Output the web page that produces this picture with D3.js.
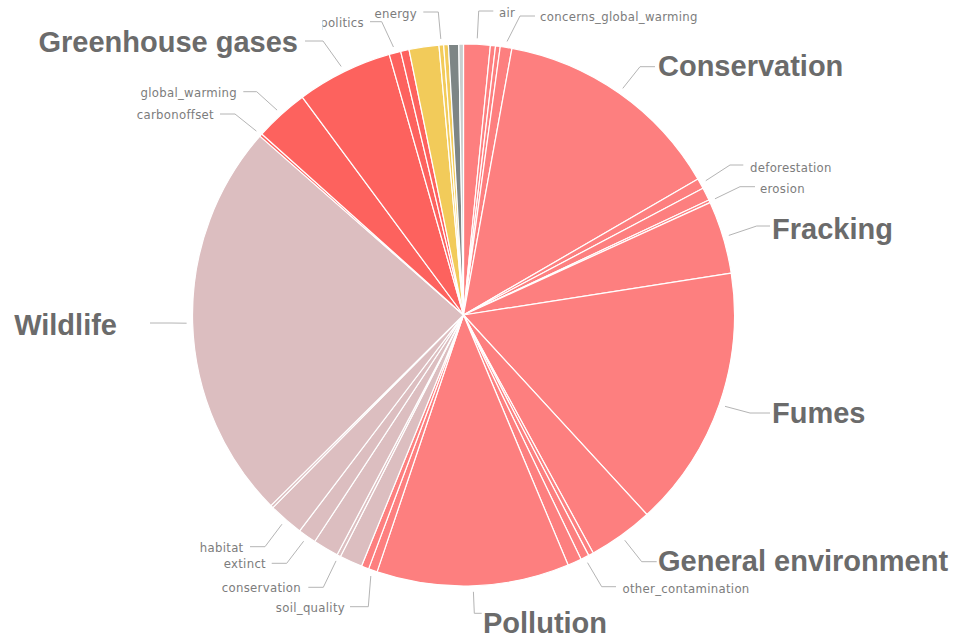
<!DOCTYPE html>
<html>
<head>
<meta charset="utf-8">
<script src="https://cdn.jsdelivr.net/npm/d3@7/dist/d3.min.js"></script>
<style>
  html, body { margin: 0; padding: 0; background: #ffffff; }
  svg { display: block; }
</style>
</head>
<body>
<svg id="chart" width="953" height="637"></svg>
<script>
// Topics, clockwise from 12 o'clock. Empty names are slices that carry no label.
const categories = [
  "air", "", "", "concerns_global_warming", "Conservation", "deforestation", "", "erosion",
  "Fracking", "Fumes", "General environment", "", "other_contamination", "", "Pollution",
  "soil_quality", "", "", "conservation", "", "extinct", "habitat", "", "Wildlife",
  "carbonoffset", "global_warming", "Greenhouse gases", "politics", "", "", "energy", "", "", ""
];
const values = [
  5.7, 1.1, 1.0, 2.5, 49.6, 2.2, 2.8, 0.6,
  15.6, 56.3, 14.0, 1.1, 1.8, 3.0, 41.3,
  1.9, 1.6, 4.9, 0.8, 5.5, 3.9, 7.5, 0.6, 86.0,
  0.6, 11.6, 20.6, 2.5, 1.8, 6.4, 1.0, 1.0, 2.2, 1.0
];
const groups = [
  "pollution", "pollution", "pollution", "pollution", "pollution", "pollution", "pollution", "pollution",
  "pollution", "pollution", "pollution", "pollution", "pollution", "pollution", "pollution",
  "pollution", "pollution", "wildlife", "wildlife", "wildlife", "wildlife", "wildlife", "wildlife", "wildlife",
  "climate", "climate", "climate", "climate", "climate", "energy", "energy", "energy", "other", "other2"
];
// Headline topics drawn with the large label style
const majorTopics = ["Conservation", "Fracking", "Fumes", "General environment", "Pollution", "Wildlife", "Greenhouse gases"];

const groupNames = ["pollution", "wildlife", "climate", "energy", "other", "other2"];
const groupColors = ["#FD7F7F", "#DCBEC0", "#FD625E", "#F2CB5A", "#7D8585", "#C9CECE"];

// Leader elbow / end points and text anchors for each labelled slice
const labelLayout = {
  "air":                     { elbow: [478.7, 11],   end: [493.3, 11],   tx: 499,   ty: 12,   anchor: "start" },
  "concerns_global_warming": { elbow: [520, 16],     end: [535, 16],     tx: 540,   ty: 16,   anchor: "start" },
  "energy":                  { elbow: [438.3, 12],   end: [423.3, 12],   tx: 417,   ty: 13,   anchor: "end" },
  "politics":                { elbow: [381.7, 21.7], end: [370, 21.7],   tx: 364,   ty: 22,   anchor: "end", clipLeft: 322.5 },
  "Greenhouse gases":        { elbow: [323, 41],     end: [305, 41],     tx: 298,   ty: 42,   anchor: "end" },
  "global_warming":          { elbow: [256.7, 91.7], end: [243.3, 91.7], tx: 237,   ty: 92,   anchor: "end" },
  "carbonoffset":            { elbow: [235, 114],    end: [220, 114],    tx: 214,   ty: 114,  anchor: "end" },
  "Wildlife":                { elbow: [170, 323],    end: [150, 323],    tx: 117,   ty: 325,  anchor: "end" },
  "habitat":                 { elbow: [265, 546.7],  end: [250, 546.7],  tx: 243.5, ty: 547,  anchor: "end" },
  "extinct":                 { elbow: [286.7, 563.3],end: [271.7, 563.3],tx: 266,   ty: 563.5,anchor: "end" },
  "conservation":            { elbow: [323.3, 587.3],end: [308.3, 587.3],tx: 301,   ty: 587,  anchor: "end" },
  "soil_quality":            { elbow: [368.3, 606.7],end: [350, 606.7],  tx: 345,   ty: 607,  anchor: "end" },
  "Pollution":               { elbow: [474.3, 613.3],end: [481.7, 613.3],tx: 483,   ty: 622.5,anchor: "start" },
  "other_contamination":     { elbow: [601.7, 586.7],end: [616, 586.7],  tx: 622.5, ty: 588,  anchor: "start" },
  "General environment":     { elbow: [641.7, 561.7],end: [656.7, 561.7],tx: 658,   ty: 561,  anchor: "start" },
  "Fumes":                   { elbow: [750, 413],    end: [770, 413],    tx: 772,   ty: 413,  anchor: "start" },
  "Fracking":                { elbow: [756.7, 226],  end: [770, 226],    tx: 772,   ty: 229,  anchor: "start" },
  "erosion":                 { elbow: [740, 186.7],  end: [755, 186.7],  tx: 760,   ty: 188,  anchor: "start" },
  "deforestation":           { elbow: [730, 165],    end: [743.3, 165],  tx: 750,   ty: 167,  anchor: "start" },
  "Conservation":            { elbow: [640, 66.7],   end: [655, 66.7],   tx: 658,   ty: 66,   anchor: "start" }
};

const cx = 463.5, cy = 315, radius = 271;

const rows = categories.map((c, i) => ({ name: c, value: values[i], group: groups[i] }));

const color = d3.scaleOrdinal().domain(groupNames).range(groupColors);

const pie = d3.pie().sort(null).value(d => d.value).startAngle(0).endAngle(2 * Math.PI);
const arcs = pie(rows);

const arc = d3.arc().innerRadius(0).outerRadius(radius);
const tipArc = d3.arc().innerRadius(radius + 6).outerRadius(radius + 6);

const svg = d3.select("#chart");
const defs = svg.append("defs");

const g = svg.append("g").attr("transform", `translate(${cx},${cy})`);

g.selectAll("path.slice")
  .data(arcs)
  .join("path")
  .attr("class", "slice")
  .attr("d", arc)
  .attr("fill", d => color(d.data.group))
  .attr("stroke", "#ffffff")
  .attr("stroke-width", 1.2)
  .attr("stroke-linejoin", "round");

// Leader lines and labels
const labelled = arcs.filter(d => d.data.name && labelLayout[d.data.name]);
const lg = svg.append("g");

labelled.forEach((d, i) => {
  const L = labelLayout[d.data.name];
  const c = tipArc.centroid(d);
  const tip = [c[0] + cx, c[1] + cy];
  lg.append("polyline")
    .attr("points", [tip, L.elbow, L.end].map(p => p.join(",")).join(" "))
    .attr("fill", "none")
    .attr("stroke", "#b4b4b4")
    .attr("stroke-width", 1);

  const major = majorTopics.includes(d.data.name);
  const t = lg.append("text")
    .attr("x", L.tx)
    .attr("y", L.ty)
    .attr("text-anchor", L.anchor)
    .attr("dominant-baseline", "central")
    .attr("fill", major ? "#6b6b6b" : "#7c7c7c")
    .style("font-family", major ? "'Liberation Sans', Arial, sans-serif" : "'DejaVu Sans Condensed', 'DejaVu Sans', sans-serif")
    .style("font-weight", major ? "bold" : "normal")
    .style("font-size", major ? "29px" : "13px")
    .style("letter-spacing", major ? "0px" : "0.3px")
    .text(d.data.name);

  if (L.clipLeft !== undefined) {
    const id = "clip-label-" + i;
    defs.append("clipPath").attr("id", id)
      .append("rect").attr("x", L.clipLeft).attr("y", 0).attr("width", 953).attr("height", 637);
    t.attr("clip-path", `url(#${id})`);
  }
});
</script>
</body>
</html>
